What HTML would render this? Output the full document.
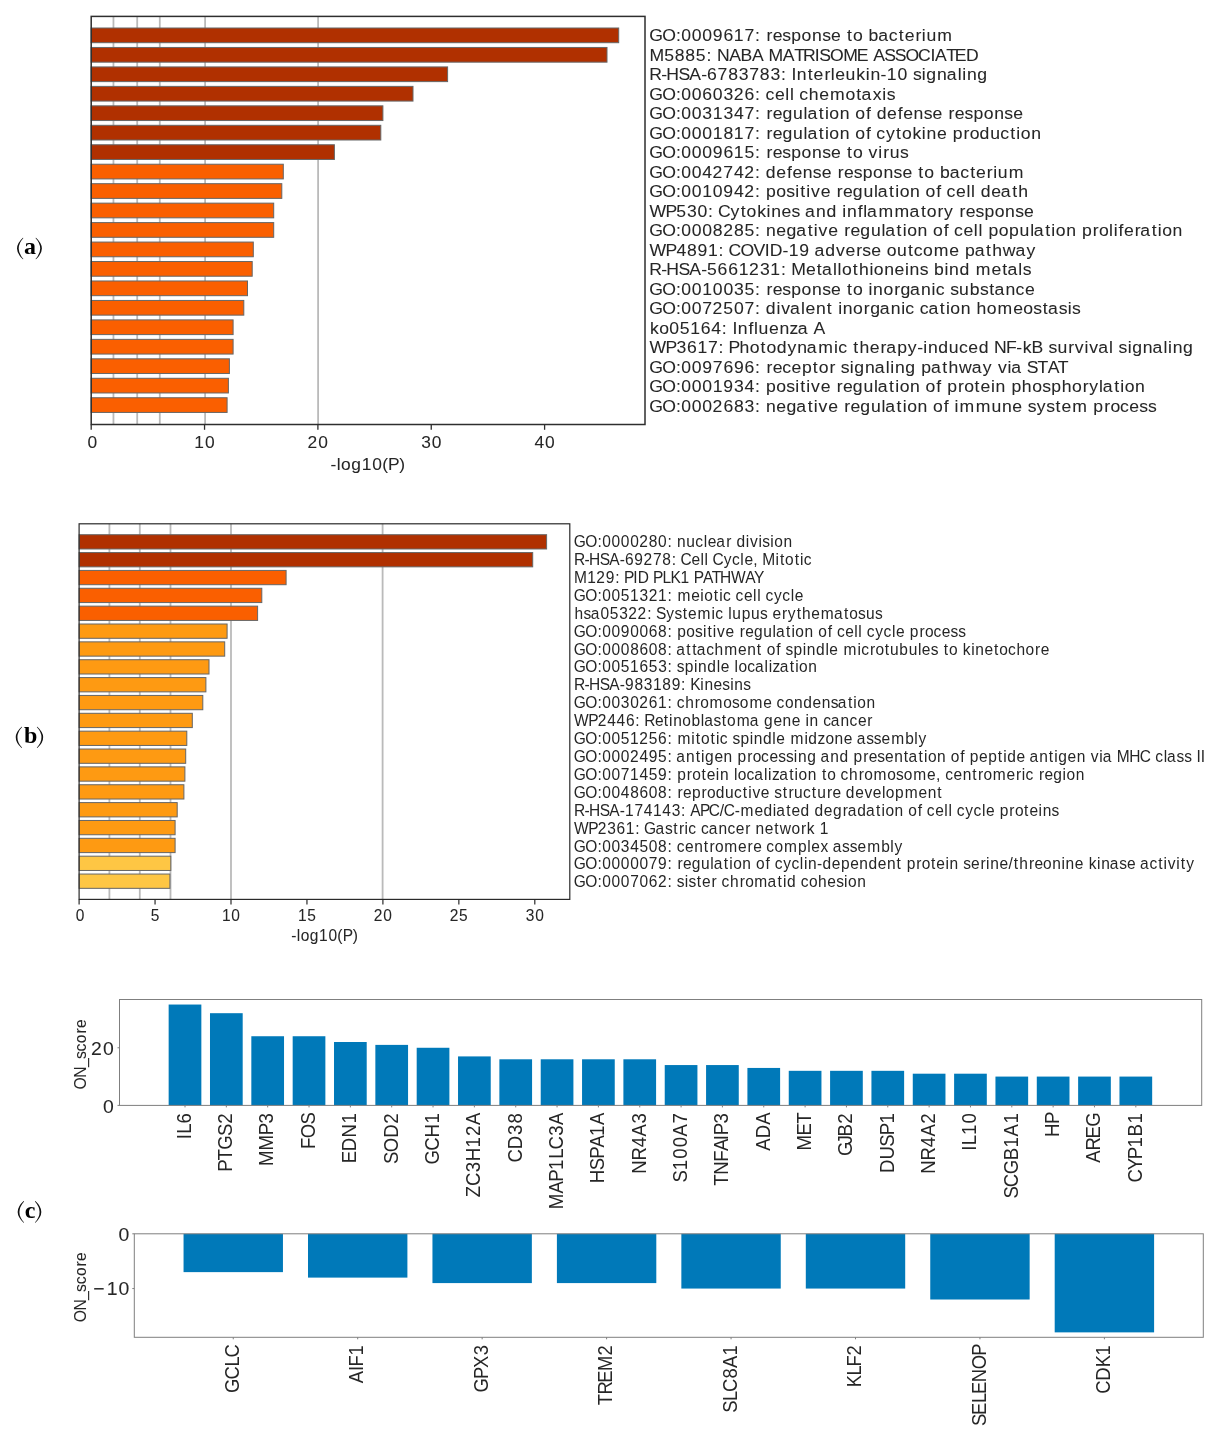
<!DOCTYPE html>
<html><head><meta charset="utf-8"><style>
html,body{margin:0;padding:0;background:#fff;}
body{width:1221px;height:1440px;overflow:hidden;}
svg{display:block;will-change:transform;font-family:"Liberation Sans",sans-serif;}
</style></head><body>
<svg width="1221" height="1440" viewBox="0 0 1221 1440" shape-rendering="geometricPrecision">
<g>
<rect x="0" y="0" width="1221" height="1440" fill="#fff"/>
<g>
<rect x="91.20" y="16.40" width="553.80" height="408.10" fill="#ffffff"/>
<line x1="113.45" y1="16.40" x2="113.45" y2="424.50" stroke="#bababa" stroke-width="1.8"/>
<line x1="137.20" y1="16.40" x2="137.20" y2="424.50" stroke="#bababa" stroke-width="1.8"/>
<line x1="159.80" y1="16.40" x2="159.80" y2="424.50" stroke="#bababa" stroke-width="1.8"/>
<line x1="205.10" y1="16.40" x2="205.10" y2="424.50" stroke="#bababa" stroke-width="1.8"/>
<line x1="318.10" y1="16.40" x2="318.10" y2="424.50" stroke="#bababa" stroke-width="1.8"/>
<rect x="91.20" y="28.00" width="527.50" height="14.70" fill="#b03000" stroke="#666666" stroke-width="1"/>
<rect x="91.20" y="47.46" width="515.80" height="14.70" fill="#b03000" stroke="#666666" stroke-width="1"/>
<rect x="91.20" y="66.92" width="356.40" height="14.70" fill="#b03000" stroke="#666666" stroke-width="1"/>
<rect x="91.20" y="86.38" width="321.80" height="14.70" fill="#b03000" stroke="#666666" stroke-width="1"/>
<rect x="91.20" y="105.84" width="291.70" height="14.70" fill="#b03000" stroke="#666666" stroke-width="1"/>
<rect x="91.20" y="125.30" width="289.60" height="14.70" fill="#b03000" stroke="#666666" stroke-width="1"/>
<rect x="91.20" y="144.76" width="243.20" height="14.70" fill="#b03000" stroke="#666666" stroke-width="1"/>
<rect x="91.20" y="164.22" width="192.10" height="14.70" fill="#fa5f00" stroke="#666666" stroke-width="1"/>
<rect x="91.20" y="183.68" width="190.60" height="14.70" fill="#fa5f00" stroke="#666666" stroke-width="1"/>
<rect x="91.20" y="203.14" width="182.50" height="14.70" fill="#fa5f00" stroke="#666666" stroke-width="1"/>
<rect x="91.20" y="222.60" width="182.50" height="14.70" fill="#fa5f00" stroke="#666666" stroke-width="1"/>
<rect x="91.20" y="242.06" width="162.10" height="14.70" fill="#fa5f00" stroke="#666666" stroke-width="1"/>
<rect x="91.20" y="261.52" width="161.00" height="14.70" fill="#fa5f00" stroke="#666666" stroke-width="1"/>
<rect x="91.20" y="280.98" width="156.30" height="14.70" fill="#fa5f00" stroke="#666666" stroke-width="1"/>
<rect x="91.20" y="300.44" width="152.60" height="14.70" fill="#fa5f00" stroke="#666666" stroke-width="1"/>
<rect x="91.20" y="319.90" width="141.90" height="14.70" fill="#fa5f00" stroke="#666666" stroke-width="1"/>
<rect x="91.20" y="339.36" width="141.90" height="14.70" fill="#fa5f00" stroke="#666666" stroke-width="1"/>
<rect x="91.20" y="358.82" width="138.20" height="14.70" fill="#fa5f00" stroke="#666666" stroke-width="1"/>
<rect x="91.20" y="378.28" width="137.20" height="14.70" fill="#fa5f00" stroke="#666666" stroke-width="1"/>
<rect x="91.20" y="397.74" width="135.90" height="14.70" fill="#fa5f00" stroke="#666666" stroke-width="1"/>
<rect x="91.20" y="16.40" width="553.80" height="408.10" fill="none" stroke="#2e2e2e" stroke-width="1.5"/>
<line x1="91.20" y1="424.50" x2="91.20" y2="429.80" stroke="#2e2e2e" stroke-width="1.3"/>
<text transform="translate(92.40 448.20) scale(1.04 1)" x="-4.7" y="0" font-size="16.73" fill="#262626" stroke="#262626" stroke-width="0.06">0</text>
<line x1="204.55" y1="424.50" x2="204.55" y2="429.80" stroke="#2e2e2e" stroke-width="1.3"/>
<text transform="translate(204.55 448.20) scale(1.04 1)" x="-9.8 0.4" y="0" font-size="16.73" fill="#262626" stroke="#262626" stroke-width="0.06">10</text>
<line x1="317.90" y1="424.50" x2="317.90" y2="429.80" stroke="#2e2e2e" stroke-width="1.3"/>
<text transform="translate(317.90 448.20) scale(1.04 1)" x="-9.9 0.4" y="0" font-size="16.73" fill="#262626" stroke="#262626" stroke-width="0.06">20</text>
<line x1="431.25" y1="424.50" x2="431.25" y2="429.80" stroke="#2e2e2e" stroke-width="1.3"/>
<text transform="translate(431.25 448.20) scale(1.04 1)" x="-9.6 0.4" y="0" font-size="16.73" fill="#262626" stroke="#262626" stroke-width="0.06">30</text>
<line x1="544.60" y1="424.50" x2="544.60" y2="429.80" stroke="#2e2e2e" stroke-width="1.3"/>
<text transform="translate(544.60 448.20) scale(1.04 1)" x="-9.7 0.4" y="0" font-size="16.73" fill="#262626" stroke="#262626" stroke-width="0.06">40</text>
<text transform="translate(367.70 470.30) scale(1.04 1)" x="-35.7 -29.8 -25.6 -15.8 -5.8 4.3 13.9 19.6 30.4" y="0" font-size="16.73" fill="#262626" stroke="#262626" stroke-width="0.06">-log10(P)</text>
<text transform="translate(649.60 41.28) scale(1.04 1)" x="-0.4 12.1 25.3 30.4 40.5 50.7 60.8 71.0 81.0 91.2 101.4 106.6 112.3 118.3 127.6 136.3 146.1 156.1 165.9 174.4 184.1 189.8 195.5 205.2 210.6 219.8 230.0 239.5 245.3 255.6 261.8 266.2 276.7" y="0" font-size="16.92" fill="#262626" stroke="#262626" stroke-width="0.06">GO:0009617: response to bacterium</text>
<text transform="translate(649.60 60.77) scale(1.04 1)" x="-0.2 14.1 24.3 34.4 44.5 54.7 59.9 64.7 76.5 87.4 98.4 109.7 114.4 128.1 139.0 147.4 158.8 163.1 173.4 186.1 199.3 210.3 215.0 225.6 235.7 246.0 258.2 270.0 274.5 285.3 293.5 304.3" y="0" font-size="16.92" fill="#262626" stroke="#262626" stroke-width="0.06">M5885: NABA MATRISOME ASSOCIATED</text>
<text transform="translate(649.60 80.26) scale(1.04 1)" x="-0.3 11.1 16.1 27.7 38.1 49.6 55.3 65.4 75.6 85.8 95.9 106.0 116.2 126.3 131.5 136.4 141.5 152.0 157.7 168.1 174.2 178.5 188.4 198.7 207.8 212.3 222.1 228.0 238.3 248.2 253.2 261.8 266.1 276.4 285.7 296.2 300.7 305.1 315.1" y="0" font-size="16.92" fill="#262626" stroke="#262626" stroke-width="0.06">R-HSA-6783783: Interleukin-10 signaling</text>
<text transform="translate(649.60 99.75) scale(1.04 1)" x="-0.4 12.1 25.3 30.4 40.5 50.7 60.8 71.0 80.9 91.3 101.4 106.6 111.5 120.5 130.4 134.9 139.1 144.0 153.1 163.1 173.5 188.4 198.7 203.8 214.5 223.8 228.0" y="0" font-size="16.92" fill="#262626" stroke="#262626" stroke-width="0.06">GO:0060326: cell chemotaxis</text>
<text transform="translate(649.60 119.24) scale(1.04 1)" x="-0.4 12.1 25.3 30.4 40.5 50.7 60.7 71.0 81.1 91.2 101.4 106.6 112.3 118.3 127.8 138.0 148.1 151.8 162.7 168.6 172.8 182.8 192.7 197.8 208.0 213.2 218.3 228.4 238.6 243.8 253.8 263.6 272.1 281.8 287.5 293.5 302.8 311.5 321.4 331.3 341.1 349.6" y="0" font-size="16.92" fill="#262626" stroke="#262626" stroke-width="0.06">GO:0031347: regulation of defense response</text>
<text transform="translate(649.60 138.73) scale(1.04 1)" x="-0.4 12.1 25.3 30.4 40.5 50.7 60.7 71.0 81.0 91.2 101.4 106.6 112.3 118.3 127.8 138.0 148.1 151.8 162.7 168.6 172.8 182.8 192.7 197.8 208.0 213.2 218.0 227.3 237.0 242.7 252.8 261.8 266.3 276.3 286.0 291.4 301.8 307.8 317.3 327.5 337.2 346.8 352.6 356.9 366.9" y="0" font-size="16.92" fill="#262626" stroke="#262626" stroke-width="0.06">GO:0001817: regulation of cytokine production</text>
<text transform="translate(649.60 158.22) scale(1.04 1)" x="-0.4 12.1 25.3 30.4 40.5 50.7 60.8 71.0 81.0 91.2 101.4 106.6 112.3 118.3 127.6 136.3 146.1 156.1 165.9 174.4 184.1 189.8 195.5 205.2 210.6 219.9 224.7 230.9 240.7" y="0" font-size="16.92" fill="#262626" stroke="#262626" stroke-width="0.06">GO:0009615: response to virus</text>
<text transform="translate(649.60 177.71) scale(1.04 1)" x="-0.4 12.1 25.3 30.4 40.5 50.7 60.6 70.9 81.1 91.1 101.4 106.6 111.8 121.9 132.1 137.3 147.3 157.0 165.5 175.3 180.9 187.0 196.2 205.0 214.8 224.8 234.5 243.1 252.8 258.4 264.1 273.9 279.2 288.5 298.7 308.2 313.9 324.3 330.4 334.8 345.4" y="0" font-size="16.92" fill="#262626" stroke="#262626" stroke-width="0.06">GO:0042742: defense response to bacterium</text>
<text transform="translate(649.60 197.20) scale(1.04 1)" x="-0.4 12.1 25.3 30.4 40.5 50.6 60.8 70.9 81.1 91.1 101.4 106.6 112.0 121.8 131.4 140.0 144.9 150.7 155.3 164.5 174.3 179.9 185.9 195.4 205.6 215.7 219.4 230.3 236.2 240.5 250.4 260.3 265.4 275.7 280.8 285.6 294.7 304.6 309.0 313.3 318.5 328.6 337.7 348.6 354.5" y="0" font-size="16.92" fill="#262626" stroke="#262626" stroke-width="0.06">GO:0010942: positive regulation of cell death</text>
<text transform="translate(649.60 216.69) scale(1.04 1)" x="-0.1 15.2 25.7 35.9 46.1 56.2 61.4 65.7 77.9 87.6 93.3 103.4 112.5 116.9 126.9 136.5 145.0 149.4 160.0 170.0 180.0 185.3 189.8 200.1 205.4 209.1 220.1 235.6 250.0 260.9 266.6 276.9 283.2 292.4 298.0 304.0 313.3 322.0 331.9 341.8 351.6 360.1" y="0" font-size="16.92" fill="#262626" stroke="#262626" stroke-width="0.06">WP530: Cytokines and inflammatory response</text>
<text transform="translate(649.60 236.18) scale(1.04 1)" x="-0.4 12.1 25.3 30.4 40.5 50.7 60.8 70.8 81.1 91.2 101.4 106.6 111.9 121.8 131.7 141.1 152.1 157.9 162.5 171.7 181.5 187.1 193.1 202.6 212.8 222.9 226.6 237.5 243.4 247.7 257.6 267.5 272.6 282.8 288.0 292.8 301.9 311.8 316.2 320.5 325.9 335.7 345.7 355.7 365.9 369.5 380.5 386.3 390.6 400.6 410.5 415.8 426.2 432.2 441.8 446.2 451.0 456.2 466.5 471.9 482.8 488.7 492.9 502.9" y="0" font-size="16.92" fill="#262626" stroke="#262626" stroke-width="0.06">GO:0008285: negative regulation of cell population proliferation</text>
<text transform="translate(649.60 255.67) scale(1.04 1)" x="-0.1 15.2 25.8 35.9 46.0 56.1 66.3 71.5 75.8 87.3 99.9 110.8 115.5 127.8 133.8 144.0 154.0 158.5 168.9 179.3 188.4 198.8 204.6 213.1 222.9 228.0 237.9 248.4 253.9 262.9 273.2 288.2 298.0 303.3 312.6 323.5 329.4 339.5 351.8 362.4" y="0" font-size="16.92" fill="#262626" stroke="#262626" stroke-width="0.06">WP4891: COVID-19 adverse outcome pathway</text>
<text transform="translate(649.60 275.16) scale(1.04 1)" x="-0.3 11.1 16.1 27.7 38.1 49.6 55.2 65.4 75.6 85.7 95.7 106.1 116.1 126.3 131.5 136.3 150.4 160.7 165.8 176.4 180.8 185.1 195.4 201.3 211.4 215.6 225.6 235.5 245.5 249.9 259.7 268.2 273.5 283.5 288.0 298.0 308.0 313.7 328.7 339.0 344.1 354.6 358.8" y="0" font-size="16.92" fill="#262626" stroke="#262626" stroke-width="0.06">R-HSA-5661231: Metallothioneins bind metals</text>
<text transform="translate(649.60 294.65) scale(1.04 1)" x="-0.4 12.1 25.3 30.4 40.5 50.6 60.8 71.0 81.1 91.2 101.4 106.6 112.3 118.3 127.6 136.3 146.1 156.1 165.9 174.4 184.1 189.8 195.5 205.2 210.5 214.9 224.8 235.2 241.2 250.4 261.0 271.0 275.1 284.1 289.0 297.6 307.9 317.6 326.6 331.7 342.2 351.9 361.0" y="0" font-size="16.92" fill="#262626" stroke="#262626" stroke-width="0.06">GO:0010035: response to inorganic substance</text>
<text transform="translate(649.60 314.14) scale(1.04 1)" x="-0.4 12.1 25.3 30.4 40.5 50.6 60.6 70.9 81.1 91.2 101.4 106.6 111.8 122.0 126.5 135.1 145.6 149.9 159.9 170.4 176.1 181.3 185.8 195.7 206.0 212.1 221.2 231.8 241.9 245.9 254.9 259.8 268.2 279.1 285.0 289.2 299.2 309.1 314.4 324.3 334.6 349.6 359.4 369.0 378.0 383.1 393.4 402.0 406.1" y="0" font-size="16.92" fill="#262626" stroke="#262626" stroke-width="0.06">GO:0072507: divalent inorganic cation homeostasis</text>
<text transform="translate(649.60 333.63) scale(1.04 1)" x="0.5 9.4 18.8 28.9 39.0 49.2 59.4 69.5 74.7 79.6 84.7 95.1 100.4 104.8 114.8 124.8 134.6 142.5 152.9 157.5" y="0" font-size="16.92" fill="#262626" stroke="#262626" stroke-width="0.06">ko05164: Influenza A</text>
<text transform="translate(649.60 353.12) scale(1.04 1)" x="-0.1 15.2 25.8 35.9 46.0 56.2 66.3 71.5 75.9 86.4 96.3 106.7 112.4 122.2 132.5 141.9 151.2 162.2 177.3 181.3 190.3 195.9 201.8 211.8 222.1 227.5 238.2 248.3 257.3 263.1 267.6 277.6 287.7 297.5 306.5 316.4 326.4 331.2 342.6 352.5 358.7 367.2 378.5 383.5 392.1 402.6 408.9 418.2 422.8 431.3 441.8 446.1 451.0 459.7 464.0 474.3 483.6 494.1 498.5 503.0 513.0" y="0" font-size="16.92" fill="#262626" stroke="#262626" stroke-width="0.06">WP3617: Photodynamic therapy-induced NF-kB survival signaling</text>
<text transform="translate(649.60 372.61) scale(1.04 1)" x="-0.4 12.1 25.3 30.4 40.5 50.6 60.8 71.0 81.1 91.3 101.4 106.6 112.3 118.3 127.5 136.5 146.6 157.0 162.7 173.0 179.0 183.9 192.5 196.9 207.1 216.4 227.0 231.4 235.9 245.9 255.9 261.3 270.5 281.4 287.3 297.5 309.7 320.4 329.5 334.9 344.2 347.8 358.2 362.6 373.0 382.8 392.4" y="0" font-size="16.92" fill="#262626" stroke="#262626" stroke-width="0.06">GO:0097696: receptor signaling pathway via STAT</text>
<text transform="translate(649.60 392.10) scale(1.04 1)" x="-0.4 12.1 25.3 30.4 40.5 50.7 60.7 70.9 81.1 91.3 101.4 106.6 112.0 121.8 131.4 140.0 144.9 150.7 155.3 164.5 174.3 179.9 185.9 195.4 205.6 215.7 219.4 230.3 236.2 240.5 250.4 260.3 265.4 275.7 280.8 286.1 296.6 302.5 312.5 318.3 328.2 332.7 342.6 347.9 357.9 367.9 377.5 386.2 396.2 406.2 416.5 422.8 432.1 435.8 446.7 452.6 456.8 466.8" y="0" font-size="16.92" fill="#262626" stroke="#262626" stroke-width="0.06">GO:0001934: positive regulation of protein phosphorylation</text>
<text transform="translate(649.60 411.59) scale(1.04 1)" x="-0.4 12.1 25.3 30.4 40.5 50.7 60.6 71.0 81.1 91.3 101.4 106.6 111.9 121.8 131.7 141.1 152.1 157.9 162.5 171.7 181.5 187.1 193.1 202.6 212.8 222.9 226.6 237.5 243.4 247.7 257.6 267.5 272.6 282.8 288.0 293.2 298.1 313.6 328.7 338.9 348.8 358.6 363.5 372.3 381.3 390.3 396.0 406.4 421.3 426.7 437.1 443.1 452.3 461.3 470.9 479.3" y="0" font-size="16.92" fill="#262626" stroke="#262626" stroke-width="0.06">GO:0002683: negative regulation of immune system process</text>
</g>
<rect x="79.10" y="523.80" width="490.70" height="375.60" fill="#ffffff"/>
<line x1="109.40" y1="523.80" x2="109.40" y2="899.40" stroke="#bababa" stroke-width="1.8"/>
<line x1="139.80" y1="523.80" x2="139.80" y2="899.40" stroke="#bababa" stroke-width="1.8"/>
<line x1="170.50" y1="523.80" x2="170.50" y2="899.40" stroke="#bababa" stroke-width="1.8"/>
<line x1="231.00" y1="523.80" x2="231.00" y2="899.40" stroke="#bababa" stroke-width="1.8"/>
<line x1="382.60" y1="523.80" x2="382.60" y2="899.40" stroke="#bababa" stroke-width="1.8"/>
<rect x="79.10" y="534.70" width="467.50" height="14.29" fill="#b03000" stroke="#666666" stroke-width="1"/>
<rect x="79.10" y="552.56" width="453.60" height="14.29" fill="#b03000" stroke="#666666" stroke-width="1"/>
<rect x="79.10" y="570.42" width="207.00" height="14.29" fill="#fa5f00" stroke="#666666" stroke-width="1"/>
<rect x="79.10" y="588.28" width="182.70" height="14.29" fill="#fa5f00" stroke="#666666" stroke-width="1"/>
<rect x="79.10" y="606.14" width="178.50" height="14.29" fill="#fa5f00" stroke="#666666" stroke-width="1"/>
<rect x="79.10" y="624.00" width="148.00" height="14.29" fill="#fe9a12" stroke="#666666" stroke-width="1"/>
<rect x="79.10" y="641.86" width="145.60" height="14.29" fill="#fe9a12" stroke="#666666" stroke-width="1"/>
<rect x="79.10" y="659.72" width="129.90" height="14.29" fill="#fe9a12" stroke="#666666" stroke-width="1"/>
<rect x="79.10" y="677.58" width="126.80" height="14.29" fill="#fe9a12" stroke="#666666" stroke-width="1"/>
<rect x="79.10" y="695.44" width="123.70" height="14.29" fill="#fe9a12" stroke="#666666" stroke-width="1"/>
<rect x="79.10" y="713.30" width="113.20" height="14.29" fill="#fe9a12" stroke="#666666" stroke-width="1"/>
<rect x="79.10" y="731.16" width="107.70" height="14.29" fill="#fe9a12" stroke="#666666" stroke-width="1"/>
<rect x="79.10" y="749.02" width="106.60" height="14.29" fill="#fe9a12" stroke="#666666" stroke-width="1"/>
<rect x="79.10" y="766.88" width="105.80" height="14.29" fill="#fe9a12" stroke="#666666" stroke-width="1"/>
<rect x="79.10" y="784.74" width="104.80" height="14.29" fill="#fe9a12" stroke="#666666" stroke-width="1"/>
<rect x="79.10" y="802.60" width="98.10" height="14.29" fill="#fe9a12" stroke="#666666" stroke-width="1"/>
<rect x="79.10" y="820.46" width="96.00" height="14.29" fill="#fe9a12" stroke="#666666" stroke-width="1"/>
<rect x="79.10" y="838.32" width="96.00" height="14.29" fill="#fe9a12" stroke="#666666" stroke-width="1"/>
<rect x="79.10" y="856.18" width="91.70" height="14.29" fill="#fec644" stroke="#666666" stroke-width="1"/>
<rect x="79.10" y="874.04" width="90.80" height="14.29" fill="#fec644" stroke="#666666" stroke-width="1"/>
<rect x="79.10" y="523.80" width="490.70" height="375.60" fill="none" stroke="#2a2a2a" stroke-width="1.2"/>
<line x1="79.10" y1="899.40" x2="79.10" y2="904.40" stroke="#2a2a2a" stroke-width="1.2"/>
<text transform="translate(80.00 921.20) scale(0.945 1)" x="-4.6" y="0" font-size="16.43" fill="#262626" stroke="#262626" stroke-width="0.06">0</text>
<line x1="155.05" y1="899.40" x2="155.05" y2="904.40" stroke="#2a2a2a" stroke-width="1.2"/>
<text transform="translate(155.05 921.20) scale(0.945 1)" x="-4.6" y="0" font-size="16.43" fill="#262626" stroke="#262626" stroke-width="0.06">5</text>
<line x1="231.00" y1="899.40" x2="231.00" y2="904.40" stroke="#2a2a2a" stroke-width="1.2"/>
<text transform="translate(231.00 921.20) scale(0.945 1)" x="-9.6 0.4" y="0" font-size="16.43" fill="#262626" stroke="#262626" stroke-width="0.06">10</text>
<line x1="306.95" y1="899.40" x2="306.95" y2="904.40" stroke="#2a2a2a" stroke-width="1.2"/>
<text transform="translate(306.95 921.20) scale(0.945 1)" x="-9.6 0.3" y="0" font-size="16.43" fill="#262626" stroke="#262626" stroke-width="0.06">15</text>
<line x1="382.90" y1="899.40" x2="382.90" y2="904.40" stroke="#2a2a2a" stroke-width="1.2"/>
<text transform="translate(382.90 921.20) scale(0.945 1)" x="-9.7 0.4" y="0" font-size="16.43" fill="#262626" stroke="#262626" stroke-width="0.06">20</text>
<line x1="458.85" y1="899.40" x2="458.85" y2="904.40" stroke="#2a2a2a" stroke-width="1.2"/>
<text transform="translate(458.85 921.20) scale(0.945 1)" x="-9.7 0.3" y="0" font-size="16.43" fill="#262626" stroke="#262626" stroke-width="0.06">25</text>
<line x1="534.80" y1="899.40" x2="534.80" y2="904.40" stroke="#2a2a2a" stroke-width="1.2"/>
<text transform="translate(534.80 921.20) scale(0.945 1)" x="-9.5 0.4" y="0" font-size="16.43" fill="#262626" stroke="#262626" stroke-width="0.06">30</text>
<text transform="translate(324.40 940.90) scale(0.945 1)" x="-35.2 -29.3 -25.1 -15.6 -5.7 4.3 13.6 19.3 29.9" y="0" font-size="16.43" fill="#262626" stroke="#262626" stroke-width="0.06">-log10(P)</text>
<text transform="translate(574.20 547.05) scale(0.945 1)" x="-0.4 11.8 24.6 29.6 39.4 49.3 59.2 68.9 79.0 88.8 98.7 103.8 108.9 118.7 128.2 137.1 141.3 150.2 160.8 166.7 171.7 181.6 186.1 195.1 199.1 207.5 211.7 221.4" y="0" font-size="16.43" fill="#262626" stroke="#262626" stroke-width="0">GO:0000280: nuclear division</text>
<text transform="translate(574.20 564.96) scale(0.945 1)" x="-0.3 10.9 15.7 27.0 37.1 48.3 53.8 63.6 73.4 83.4 93.3 103.2 108.3 112.4 124.1 133.7 138.0 142.2 146.4 158.3 167.0 175.8 180.1 189.4 194.5 199.1 213.0 217.7 223.2 233.3 239.0 242.9" y="0" font-size="16.43" fill="#262626" stroke="#262626" stroke-width="0">R-HSA-69278: Cell Cycle, Mitotic</text>
<text transform="translate(574.20 582.87) scale(0.945 1)" x="-0.1 13.7 23.4 33.5 43.4 48.4 52.6 62.6 67.2 79.3 83.5 93.5 102.0 112.5 122.3 126.5 136.2 145.7 154.2 165.9 181.1 190.3" y="0" font-size="16.43" fill="#262626" stroke="#262626" stroke-width="0">M129: PID PLK1 PATHWAY</text>
<text transform="translate(574.20 600.78) scale(0.945 1)" x="-0.4 11.8 24.6 29.6 39.4 49.3 59.1 69.1 78.8 88.7 98.7 103.8 109.3 123.9 133.5 137.7 147.7 153.4 157.4 166.1 170.8 179.6 189.3 193.6 197.8 202.5 211.5 220.2 229.1 233.3" y="0" font-size="16.43" fill="#262626" stroke="#262626" stroke-width="0">GO:0051321: meiotic cell cycle</text>
<text transform="translate(574.20 618.69) scale(0.945 1)" x="0.4 9.9 17.5 27.8 37.6 47.6 57.2 67.1 77.2 82.2 86.5 97.3 106.1 114.8 120.4 130.5 145.2 149.2 157.9 163.0 167.3 177.3 187.0 196.6 204.8 209.8 219.8 225.9 235.4 241.1 250.8 260.9 274.8 285.5 291.0 300.4 308.7 318.3" y="0" font-size="16.43" fill="#262626" stroke="#262626" stroke-width="0">hsa05322: Systemic lupus erythematosus</text>
<text transform="translate(574.20 636.60) scale(0.945 1)" x="-0.4 11.8 24.6 29.6 39.4 49.3 59.2 69.1 79.0 88.8 98.7 103.8 109.0 118.5 127.9 136.3 141.0 146.7 151.1 160.1 169.6 175.1 181.0 190.2 200.1 209.9 213.5 224.2 229.9 234.0 243.7 253.4 258.3 268.3 273.3 278.0 286.8 296.4 300.7 304.9 309.6 318.7 327.4 336.2 340.5 350.0 355.2 365.3 371.1 380.1 388.9 398.2 406.3" y="0" font-size="16.43" fill="#262626" stroke="#262626" stroke-width="0">GO:0090068: positive regulation of cell cycle process</text>
<text transform="translate(574.20 654.51) scale(0.945 1)" x="-0.4 11.8 24.6 29.6 39.4 49.3 59.2 69.1 79.0 88.8 98.7 103.8 108.1 118.7 124.8 129.8 139.7 148.6 158.8 173.4 183.1 193.3 198.9 203.8 213.8 218.8 223.6 232.1 241.8 246.2 255.9 265.8 270.0 279.5 285.0 299.7 303.7 313.0 318.8 328.5 334.2 344.1 353.9 363.7 367.9 377.3 385.5 391.0 396.5 406.0 411.3 420.1 424.5 434.2 444.2 449.8 459.0 468.0 477.6 487.7 493.6" y="0" font-size="16.43" fill="#262626" stroke="#262626" stroke-width="0">GO:0008608: attachment of spindle microtubules to kinetochore</text>
<text transform="translate(574.20 672.42) scale(0.945 1)" x="-0.4 11.8 24.6 29.6 39.4 49.3 59.1 69.1 78.9 88.9 98.7 103.8 108.6 117.1 126.8 131.1 140.9 150.8 155.0 164.5 169.6 173.8 183.0 191.2 201.4 205.8 209.8 217.5 228.1 233.8 238.0 247.7" y="0" font-size="16.43" fill="#262626" stroke="#262626" stroke-width="0">GO:0051653: spindle localization</text>
<text transform="translate(574.20 690.33) scale(0.945 1)" x="-0.3 10.9 15.7 27.0 37.1 48.3 53.8 63.7 73.6 83.4 93.3 103.2 113.1 118.1 122.8 133.4 137.8 147.4 156.8 165.2 169.5 179.0" y="0" font-size="16.43" fill="#262626" stroke="#262626" stroke-width="0">R-HSA-983189: Kinesins</text>
<text transform="translate(574.20 708.24) scale(0.945 1)" x="-0.4 11.8 24.6 29.6 39.4 49.3 59.2 68.9 79.0 88.7 98.7 103.8 108.5 117.4 127.6 133.4 143.2 157.7 167.1 175.3 185.4 200.0 209.5 214.2 223.0 232.7 242.4 252.2 261.9 271.4 279.0 289.7 295.4 299.5 309.2" y="0" font-size="16.43" fill="#262626" stroke="#262626" stroke-width="0">GO:0030261: chromosome condensation</text>
<text transform="translate(574.20 726.15) scale(0.945 1)" x="-0.1 14.8 24.9 35.0 44.8 54.7 64.6 69.6 74.1 85.4 94.7 100.4 104.8 114.4 124.2 133.9 137.5 147.5 156.2 161.8 171.9 185.8 195.9 200.9 210.8 220.5 230.2 239.7 244.7 249.1 258.7 263.5 271.6 281.9 291.4 300.2 310.2" y="0" font-size="16.43" fill="#262626" stroke="#262626" stroke-width="0">WP2446: Retinoblastoma gene in cancer</text>
<text transform="translate(574.20 744.06) scale(0.945 1)" x="-0.4 11.8 24.6 29.6 39.4 49.3 59.1 68.9 78.9 88.8 98.7 103.8 109.3 124.0 128.7 134.2 144.2 150.0 153.9 162.6 167.4 175.9 185.7 190.0 199.8 209.7 213.9 223.4 228.9 243.6 247.8 257.5 265.8 275.5 285.2 294.7 299.0 309.0 317.1 325.3 335.4 350.2 359.9 364.4" y="0" font-size="16.43" fill="#262626" stroke="#262626" stroke-width="0">GO:0051256: mitotic spindle midzone assembly</text>
<text transform="translate(574.20 761.97) scale(0.945 1)" x="-0.4 11.8 24.6 29.6 39.4 49.3 59.0 69.1 78.9 88.8 98.7 103.8 108.1 118.4 128.6 134.3 138.5 148.4 158.0 167.7 172.9 183.0 188.9 197.8 206.6 216.0 224.1 232.4 236.8 246.5 256.3 260.6 270.9 280.7 290.4 295.6 305.8 311.6 320.7 328.9 338.6 348.8 353.8 364.4 370.1 374.3 384.0 393.6 398.6 408.5 413.5 418.7 428.4 438.1 448.2 454.0 458.2 468.0 477.5 481.9 492.2 502.3 508.0 512.3 522.1 531.8 541.4 546.7 555.7 559.3 569.4 574.0 587.4 598.6 610.2 615.0 623.8 627.4 637.4 645.5 653.7 658.5 663.0" y="0" font-size="16.43" fill="#262626" stroke="#262626" stroke-width="0">GO:0002495: antigen processing and presentation of peptide antigen via MHC class II</text>
<text transform="translate(574.20 779.88) scale(0.945 1)" x="-0.4 11.8 24.6 29.6 39.4 49.3 59.1 69.1 78.9 88.8 98.7 103.8 109.0 119.1 124.9 134.6 140.2 149.9 154.2 163.9 169.0 173.1 182.4 190.6 200.8 205.1 209.2 216.9 227.5 233.2 237.4 247.1 256.7 262.2 267.7 277.2 281.9 290.9 301.1 306.9 316.6 331.2 340.5 348.8 358.8 373.4 382.8 387.9 392.6 401.4 411.1 421.3 427.4 433.2 442.9 457.5 467.6 473.6 477.5 486.3 491.8 497.6 506.9 516.8 521.0 530.7" y="0" font-size="16.43" fill="#262626" stroke="#262626" stroke-width="0">GO:0071459: protein localization to chromosome, centromeric region</text>
<text transform="translate(574.20 797.79) scale(0.945 1)" x="-0.4 11.8 24.6 29.6 39.4 49.3 59.2 69.1 79.0 88.8 98.7 103.8 109.3 115.1 124.6 134.7 140.5 149.8 159.7 169.2 178.4 184.1 188.6 197.5 207.0 211.8 220.6 226.7 232.7 242.2 251.4 257.1 267.4 273.3 282.4 287.4 297.3 307.1 316.0 325.7 329.8 339.6 349.7 364.3 374.0 384.2" y="0" font-size="16.43" fill="#262626" stroke="#262626" stroke-width="0">GO:0048608: reproductive structure development</text>
<text transform="translate(574.20 815.70) scale(0.945 1)" x="-0.3 10.9 15.7 27.0 37.1 48.3 53.7 63.7 73.6 83.4 93.3 103.2 113.1 118.1 122.7 133.0 142.3 154.0 158.3 169.8 176.1 190.7 200.3 210.2 213.8 224.4 230.0 239.6 249.4 254.4 264.2 273.8 284.2 289.4 299.6 308.8 319.4 325.1 329.3 339.0 348.6 353.5 363.5 368.5 373.2 382.0 391.7 396.0 400.1 404.9 413.9 422.6 431.5 435.7 445.2 450.4 460.5 466.4 476.1 481.7 491.3 495.7 505.2" y="0" font-size="16.43" fill="#262626" stroke="#262626" stroke-width="0">R-HSA-174143: APC/C-mediated degradation of cell cycle proteins</text>
<text transform="translate(574.20 833.61) scale(0.945 1)" x="-0.1 14.8 24.9 35.0 44.8 54.6 64.6 69.6 74.0 86.0 96.0 104.7 110.9 116.8 120.8 129.5 134.2 142.4 152.7 162.1 170.9 181.0 186.8 191.9 201.6 211.7 217.4 229.9 240.0 246.1 254.8 259.8" y="0" font-size="16.43" fill="#262626" stroke="#262626" stroke-width="0">WP2361: Gastric cancer network 1</text>
<text transform="translate(574.20 851.52) scale(0.945 1)" x="-0.4 11.8 24.6 29.6 39.4 49.3 59.2 69.0 79.0 88.8 98.7 103.8 108.5 117.3 127.0 137.2 143.3 149.1 158.8 173.4 183.5 189.4 198.5 203.2 212.0 222.1 236.9 246.6 250.8 260.6 269.2 273.6 283.5 291.6 299.9 310.0 324.8 334.5 339.0" y="0" font-size="16.43" fill="#262626" stroke="#262626" stroke-width="0">GO:0034508: centromere complex assembly</text>
<text transform="translate(574.20 869.43) scale(0.945 1)" x="-0.4 11.8 24.6 29.6 39.4 49.3 59.2 69.1 78.9 88.8 98.7 103.8 109.3 115.1 124.4 134.3 144.1 147.7 158.3 164.0 168.2 177.9 187.5 192.5 202.4 207.4 212.2 221.2 229.9 238.8 243.1 247.5 257.0 262.8 272.6 282.4 292.0 301.7 311.4 321.3 330.9 341.1 346.7 351.9 362.0 367.8 377.5 383.1 392.8 397.2 406.8 411.6 419.9 429.9 435.9 440.3 450.0 459.6 465.2 470.9 481.2 487.0 496.2 505.9 515.7 520.0 529.7 539.2 544.5 553.3 557.7 566.7 576.7 585.0 594.5 598.8 608.7 618.0 623.7 628.2 637.2 641.9 647.7" y="0" font-size="16.43" fill="#262626" stroke="#262626" stroke-width="0">GO:0000079: regulation of cyclin-dependent protein serine/threonine kinase activity</text>
<text transform="translate(574.20 887.34) scale(0.945 1)" x="-0.4 11.8 24.6 29.6 39.4 49.3 59.2 69.1 79.0 88.6 98.7 103.8 108.6 116.9 121.0 129.7 135.3 145.4 151.2 155.9 164.8 175.1 180.9 190.6 204.6 215.2 220.9 225.2 234.9 239.7 248.4 258.1 267.8 277.2 285.5 289.7 299.4" y="0" font-size="16.43" fill="#262626" stroke="#262626" stroke-width="0">GO:0007062: sister chromatid cohesion</text>
<rect x="168.65" y="1004.54" width="32.70" height="100.86" fill="#0079b9"/>
<rect x="209.99" y="1013.19" width="32.70" height="92.21" fill="#0079b9"/>
<rect x="251.33" y="1036.24" width="32.70" height="69.16" fill="#0079b9"/>
<rect x="292.67" y="1036.24" width="32.70" height="69.16" fill="#0079b9"/>
<rect x="334.01" y="1042.00" width="32.70" height="63.40" fill="#0079b9"/>
<rect x="375.35" y="1044.89" width="32.70" height="60.51" fill="#0079b9"/>
<rect x="416.69" y="1047.77" width="32.70" height="57.63" fill="#0079b9"/>
<rect x="458.03" y="1056.41" width="32.70" height="48.99" fill="#0079b9"/>
<rect x="499.37" y="1059.29" width="32.70" height="46.11" fill="#0079b9"/>
<rect x="540.71" y="1059.29" width="32.70" height="46.11" fill="#0079b9"/>
<rect x="582.05" y="1059.29" width="32.70" height="46.11" fill="#0079b9"/>
<rect x="623.39" y="1059.29" width="32.70" height="46.11" fill="#0079b9"/>
<rect x="664.73" y="1065.06" width="32.70" height="40.34" fill="#0079b9"/>
<rect x="706.07" y="1065.06" width="32.70" height="40.34" fill="#0079b9"/>
<rect x="747.41" y="1067.94" width="32.70" height="37.46" fill="#0079b9"/>
<rect x="788.75" y="1070.82" width="32.70" height="34.58" fill="#0079b9"/>
<rect x="830.09" y="1070.82" width="32.70" height="34.58" fill="#0079b9"/>
<rect x="871.43" y="1070.82" width="32.70" height="34.58" fill="#0079b9"/>
<rect x="912.77" y="1073.70" width="32.70" height="31.70" fill="#0079b9"/>
<rect x="954.11" y="1073.70" width="32.70" height="31.70" fill="#0079b9"/>
<rect x="995.45" y="1076.58" width="32.70" height="28.82" fill="#0079b9"/>
<rect x="1036.79" y="1076.58" width="32.70" height="28.82" fill="#0079b9"/>
<rect x="1078.13" y="1076.58" width="32.70" height="28.82" fill="#0079b9"/>
<rect x="1119.47" y="1076.58" width="32.70" height="28.82" fill="#0079b9"/>
<rect x="119.50" y="999.50" width="1082.20" height="105.90" fill="none" stroke="#7f7f7f" stroke-width="1"/>
<line x1="185.00" y1="1105.40" x2="185.00" y2="1107.40" stroke="#7f7f7f" stroke-width="1"/>
<text transform="translate(190.80 1112.60) rotate(-90) scale(0.94 1)" x="-28.4 -22.6 -11.6" y="0" font-size="19.80" fill="#262626" stroke="#262626" stroke-width="0">IL6</text>
<line x1="226.34" y1="1105.40" x2="226.34" y2="1107.40" stroke="#7f7f7f" stroke-width="1"/>
<text transform="translate(232.14 1112.60) rotate(-90) scale(0.94 1)" x="-62.9 -51.1 -39.5 -24.8 -11.9" y="0" font-size="19.80" fill="#262626" stroke="#262626" stroke-width="0">PTGS2</text>
<line x1="267.68" y1="1105.40" x2="267.68" y2="1107.40" stroke="#7f7f7f" stroke-width="1"/>
<text transform="translate(273.48 1112.60) rotate(-90) scale(0.94 1)" x="-56.8 -40.2 -24.2 -11.6" y="0" font-size="19.80" fill="#262626" stroke="#262626" stroke-width="0">MMP3</text>
<line x1="309.02" y1="1105.40" x2="309.02" y2="1107.40" stroke="#7f7f7f" stroke-width="1"/>
<text transform="translate(314.82 1112.60) rotate(-90) scale(0.94 1)" x="-38.8 -27.4 -12.6" y="0" font-size="19.80" fill="#262626" stroke="#262626" stroke-width="0">FOS</text>
<line x1="350.36" y1="1105.40" x2="350.36" y2="1107.40" stroke="#7f7f7f" stroke-width="1"/>
<text transform="translate(356.16 1112.60) rotate(-90) scale(0.94 1)" x="-54.0 -41.0 -26.5 -11.7" y="0" font-size="19.80" fill="#262626" stroke="#262626" stroke-width="0">EDN1</text>
<line x1="391.70" y1="1105.40" x2="391.70" y2="1107.40" stroke="#7f7f7f" stroke-width="1"/>
<text transform="translate(397.50 1112.60) rotate(-90) scale(0.94 1)" x="-54.6 -42.2 -26.7 -11.9" y="0" font-size="19.80" fill="#262626" stroke="#262626" stroke-width="0">SOD2</text>
<line x1="433.04" y1="1105.40" x2="433.04" y2="1107.40" stroke="#7f7f7f" stroke-width="1"/>
<text transform="translate(438.84 1112.60) rotate(-90) scale(0.94 1)" x="-55.1 -40.5 -26.5 -11.7" y="0" font-size="19.80" fill="#262626" stroke="#262626" stroke-width="0">GCH1</text>
<line x1="474.38" y1="1105.40" x2="474.38" y2="1107.40" stroke="#7f7f7f" stroke-width="1"/>
<text transform="translate(480.18 1112.60) rotate(-90) scale(0.94 1)" x="-90.0 -78.0 -63.4 -51.8 -37.0 -25.0 -13.2" y="0" font-size="19.80" fill="#262626" stroke="#262626" stroke-width="0">ZC3H12A</text>
<line x1="515.72" y1="1105.40" x2="515.72" y2="1107.40" stroke="#7f7f7f" stroke-width="1"/>
<text transform="translate(521.52 1112.60) rotate(-90) scale(0.94 1)" x="-53.1 -38.9 -23.8 -11.6" y="0" font-size="19.80" fill="#262626" stroke="#262626" stroke-width="0">CD38</text>
<line x1="557.06" y1="1105.40" x2="557.06" y2="1107.40" stroke="#7f7f7f" stroke-width="1"/>
<text transform="translate(562.86 1112.60) rotate(-90) scale(0.94 1)" x="-102.7 -86.2 -73.6 -61.0 -49.1 -39.2 -24.7 -13.2" y="0" font-size="19.80" fill="#262626" stroke="#262626" stroke-width="0">MAP1LC3A</text>
<line x1="598.40" y1="1105.40" x2="598.40" y2="1107.40" stroke="#7f7f7f" stroke-width="1"/>
<text transform="translate(604.20 1112.60) rotate(-90) scale(0.94 1)" x="-75.2 -61.3 -49.2 -37.2 -24.8 -13.2" y="0" font-size="19.80" fill="#262626" stroke="#262626" stroke-width="0">HSPA1A</text>
<line x1="639.74" y1="1105.40" x2="639.74" y2="1107.40" stroke="#7f7f7f" stroke-width="1"/>
<text transform="translate(645.54 1112.60) rotate(-90) scale(0.94 1)" x="-65.1 -51.0 -36.9 -25.3 -11.6" y="0" font-size="19.80" fill="#262626" stroke="#262626" stroke-width="0">NR4A3</text>
<line x1="681.08" y1="1105.40" x2="681.08" y2="1107.40" stroke="#7f7f7f" stroke-width="1"/>
<text transform="translate(686.88 1112.60) rotate(-90) scale(0.94 1)" x="-74.4 -61.3 -49.1 -36.9 -25.3 -11.6" y="0" font-size="19.80" fill="#262626" stroke="#262626" stroke-width="0">S100A7</text>
<line x1="722.42" y1="1105.40" x2="722.42" y2="1107.40" stroke="#7f7f7f" stroke-width="1"/>
<text transform="translate(728.22 1112.60) rotate(-90) scale(0.94 1)" x="-77.9 -66.1 -52.3 -40.8 -29.3 -24.2 -11.6" y="0" font-size="19.80" fill="#262626" stroke="#262626" stroke-width="0">TNFAIP3</text>
<line x1="763.76" y1="1105.40" x2="763.76" y2="1107.40" stroke="#7f7f7f" stroke-width="1"/>
<text transform="translate(769.56 1112.60) rotate(-90) scale(0.94 1)" x="-40.7 -27.2 -12.8" y="0" font-size="19.80" fill="#262626" stroke="#262626" stroke-width="0">ADA</text>
<line x1="805.10" y1="1105.40" x2="805.10" y2="1107.40" stroke="#7f7f7f" stroke-width="1"/>
<text transform="translate(810.90 1112.60) rotate(-90) scale(0.94 1)" x="-40.3 -24.4 -11.9" y="0" font-size="19.80" fill="#262626" stroke="#262626" stroke-width="0">MET</text>
<line x1="846.44" y1="1105.40" x2="846.44" y2="1107.40" stroke="#7f7f7f" stroke-width="1"/>
<text transform="translate(852.24 1112.60) rotate(-90) scale(0.94 1)" x="-46.1 -33.9 -25.4 -11.9" y="0" font-size="19.80" fill="#262626" stroke="#262626" stroke-width="0">GJB2</text>
<line x1="887.78" y1="1105.40" x2="887.78" y2="1107.40" stroke="#7f7f7f" stroke-width="1"/>
<text transform="translate(893.58 1112.60) rotate(-90) scale(0.94 1)" x="-64.4 -50.0 -36.3 -24.2 -11.7" y="0" font-size="19.80" fill="#262626" stroke="#262626" stroke-width="0">DUSP1</text>
<line x1="929.12" y1="1105.40" x2="929.12" y2="1107.40" stroke="#7f7f7f" stroke-width="1"/>
<text transform="translate(934.92 1112.60) rotate(-90) scale(0.94 1)" x="-65.1 -51.0 -36.9 -25.3 -11.9" y="0" font-size="19.80" fill="#262626" stroke="#262626" stroke-width="0">NR4A2</text>
<line x1="970.46" y1="1105.40" x2="970.46" y2="1107.40" stroke="#7f7f7f" stroke-width="1"/>
<text transform="translate(976.26 1112.60) rotate(-90) scale(0.94 1)" x="-40.6 -34.8 -23.9 -11.6" y="0" font-size="19.80" fill="#262626" stroke="#262626" stroke-width="0">IL10</text>
<line x1="1011.80" y1="1105.40" x2="1011.80" y2="1107.40" stroke="#7f7f7f" stroke-width="1"/>
<text transform="translate(1017.60 1112.60) rotate(-90) scale(0.94 1)" x="-91.4 -79.4 -65.7 -50.7 -37.0 -25.3 -11.7" y="0" font-size="19.80" fill="#262626" stroke="#262626" stroke-width="0">SCGB1A1</text>
<line x1="1053.14" y1="1105.40" x2="1053.14" y2="1107.40" stroke="#7f7f7f" stroke-width="1"/>
<text transform="translate(1058.94 1112.60) rotate(-90) scale(0.94 1)" x="-25.9 -12.1" y="0" font-size="19.80" fill="#262626" stroke="#262626" stroke-width="0">HP</text>
<line x1="1094.48" y1="1105.40" x2="1094.48" y2="1107.40" stroke="#7f7f7f" stroke-width="1"/>
<text transform="translate(1100.28 1112.60) rotate(-90) scale(0.94 1)" x="-53.4 -40.4 -27.6 -15.1" y="0" font-size="19.80" fill="#262626" stroke="#262626" stroke-width="0">AREG</text>
<line x1="1135.82" y1="1105.40" x2="1135.82" y2="1107.40" stroke="#7f7f7f" stroke-width="1"/>
<text transform="translate(1141.62 1112.60) rotate(-90) scale(0.94 1)" x="-74.4 -61.2 -49.6 -37.0 -25.4 -11.7" y="0" font-size="19.80" fill="#262626" stroke="#262626" stroke-width="0">CYP1B1</text>
<line x1="117.50" y1="1105.40" x2="119.50" y2="1105.40" stroke="#7f7f7f" stroke-width="1"/>
<text transform="translate(114.20 1112.60) scale(1.04 1)" x="-10.8" y="0" font-size="18.67" fill="#262626" stroke="#262626" stroke-width="0.06">0</text>
<line x1="117.50" y1="1047.77" x2="119.50" y2="1047.77" stroke="#7f7f7f" stroke-width="1"/>
<text transform="translate(114.20 1054.97) scale(1.04 1)" x="-22.2 -10.8" y="0" font-size="18.67" fill="#262626" stroke="#262626" stroke-width="0.06">20</text>
<text transform="translate(85.50 1054.30) rotate(-90) scale(0.95 1)" x="-37.0 -24.6 -13.5 -5.0 3.0 11.7 21.8 27.7" y="0" font-size="16.52" fill="#262626" stroke="#262626" stroke-width="0.06">ON_score</text>
<rect x="183.55" y="1233.80" width="99.40" height="38.33" fill="#0079b9"/>
<rect x="308.00" y="1233.80" width="99.40" height="43.81" fill="#0079b9"/>
<rect x="432.45" y="1233.80" width="99.40" height="49.29" fill="#0079b9"/>
<rect x="556.90" y="1233.80" width="99.40" height="49.29" fill="#0079b9"/>
<rect x="681.35" y="1233.80" width="99.40" height="54.76" fill="#0079b9"/>
<rect x="805.80" y="1233.80" width="99.40" height="54.76" fill="#0079b9"/>
<rect x="930.25" y="1233.80" width="99.40" height="65.71" fill="#0079b9"/>
<rect x="1054.70" y="1233.80" width="99.40" height="98.57" fill="#0079b9"/>
<rect x="134.30" y="1233.80" width="1069.00" height="103.50" fill="none" stroke="#7f7f7f" stroke-width="1"/>
<line x1="233.25" y1="1337.30" x2="233.25" y2="1339.30" stroke="#7f7f7f" stroke-width="1"/>
<text transform="translate(238.85 1344.60) rotate(-90) scale(0.95 1)" x="-50.9 -36.8 -23.1 -13.6" y="0" font-size="19.36" fill="#262626" stroke="#262626" stroke-width="0">GCLC</text>
<line x1="357.70" y1="1337.30" x2="357.70" y2="1339.30" stroke="#7f7f7f" stroke-width="1"/>
<text transform="translate(363.30 1344.60) rotate(-90) scale(0.95 1)" x="-40.7 -27.9 -23.1 -11.4" y="0" font-size="19.36" fill="#262626" stroke="#262626" stroke-width="0">AIF1</text>
<line x1="482.15" y1="1337.30" x2="482.15" y2="1339.30" stroke="#7f7f7f" stroke-width="1"/>
<text transform="translate(487.75 1344.60) rotate(-90) scale(0.95 1)" x="-50.4 -36.2 -24.6 -11.3" y="0" font-size="19.36" fill="#262626" stroke="#262626" stroke-width="0">GPX3</text>
<line x1="606.60" y1="1337.30" x2="606.60" y2="1339.30" stroke="#7f7f7f" stroke-width="1"/>
<text transform="translate(612.20 1344.60) rotate(-90) scale(0.95 1)" x="-63.9 -52.6 -40.1 -27.8 -11.5" y="0" font-size="19.36" fill="#262626" stroke="#262626" stroke-width="0">TREM2</text>
<line x1="731.05" y1="1337.30" x2="731.05" y2="1339.30" stroke="#7f7f7f" stroke-width="1"/>
<text transform="translate(736.65 1344.60) rotate(-90) scale(0.95 1)" x="-71.7 -59.3 -49.8 -35.7 -24.6 -11.4" y="0" font-size="19.36" fill="#262626" stroke="#262626" stroke-width="0">SLC8A1</text>
<line x1="855.50" y1="1337.30" x2="855.50" y2="1339.30" stroke="#7f7f7f" stroke-width="1"/>
<text transform="translate(861.10 1344.60) rotate(-90) scale(0.95 1)" x="-44.9 -32.6 -23.1 -11.5" y="0" font-size="19.36" fill="#262626" stroke="#262626" stroke-width="0">KLF2</text>
<line x1="979.95" y1="1337.30" x2="979.95" y2="1339.30" stroke="#7f7f7f" stroke-width="1"/>
<text transform="translate(985.55 1344.60) rotate(-90) scale(0.95 1)" x="-85.6 -74.0 -61.5 -52.0 -39.7 -26.0 -11.7" y="0" font-size="19.36" fill="#262626" stroke="#262626" stroke-width="0">SELENOP</text>
<line x1="1104.40" y1="1337.30" x2="1104.40" y2="1339.30" stroke="#7f7f7f" stroke-width="1"/>
<text transform="translate(1110.00 1344.60) rotate(-90) scale(0.95 1)" x="-51.8 -38.0 -23.9 -11.4" y="0" font-size="19.36" fill="#262626" stroke="#262626" stroke-width="0">CDK1</text>
<line x1="132.30" y1="1233.80" x2="134.30" y2="1233.80" stroke="#7f7f7f" stroke-width="1"/>
<text transform="translate(129.80 1240.50) scale(1.04 1)" x="-10.8" y="0" font-size="18.67" fill="#262626" stroke="#262626" stroke-width="0.06">0</text>
<line x1="132.30" y1="1288.56" x2="134.30" y2="1288.56" stroke="#7f7f7f" stroke-width="1"/>
<text transform="translate(129.80 1295.26) scale(1.04 1)" x="-35.2 -22.1 -10.8" y="0" font-size="18.67" fill="#262626" stroke="#262626" stroke-width="0.06">−10</text>
<text transform="translate(86.00 1287.20) rotate(-90) scale(0.95 1)" x="-37.0 -24.6 -13.5 -5.0 3.0 11.7 21.8 27.7" y="0" font-size="16.52" fill="#262626" stroke="#262626" stroke-width="0.06">ON_score</text>
<path d="M22.90,237.70 Q11.10,248.50 22.90,259.30 L23.40,259.00 Q14.00,248.50 23.40,238.00 Z" fill="#111"/>
<path d="M36.00,237.70 Q47.80,248.50 36.00,259.30 L35.50,259.00 Q44.90,248.50 35.50,238.00 Z" fill="#111"/>
<text x="23.90" y="254.10" font-family="Liberation Serif" font-weight="bold" font-size="24" fill="#000">a</text>
<path d="M21.60,726.70 Q9.80,737.35 21.60,748.00 L22.10,747.70 Q12.70,737.35 22.10,727.00 Z" fill="#111"/>
<path d="M37.30,726.70 Q49.10,737.35 37.30,748.00 L36.80,747.70 Q46.20,737.35 36.80,727.00 Z" fill="#111"/>
<text x="23.90" y="743.10" font-family="Liberation Serif" font-weight="bold" font-size="24" fill="#000">b</text>
<path d="M23.60,1201.10 Q11.80,1211.95 23.60,1222.80 L24.10,1222.50 Q14.70,1211.95 24.10,1201.40 Z" fill="#111"/>
<path d="M35.40,1201.10 Q47.20,1211.95 35.40,1222.80 L34.90,1222.50 Q44.30,1211.95 34.90,1201.40 Z" fill="#111"/>
<text x="24.80" y="1218.20" font-family="Liberation Serif" font-weight="bold" font-size="24" fill="#000">c</text>
</g>
</svg>
</body></html>
